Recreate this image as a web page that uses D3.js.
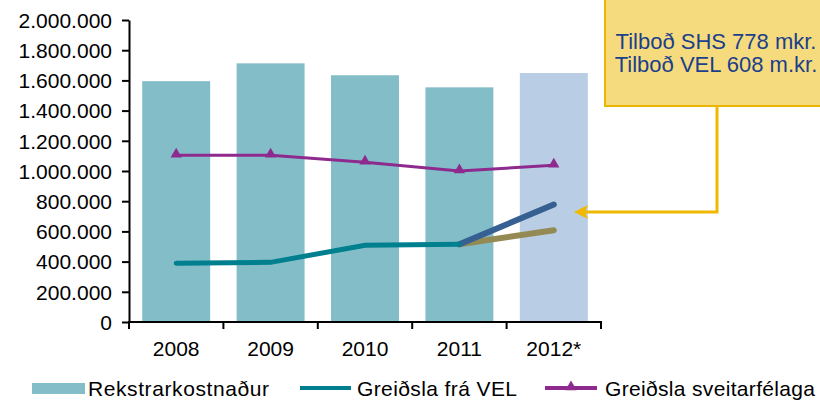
<!DOCTYPE html>
<meta charset="utf-8">
<title>rekstur</title>
<style>
body { margin: 0; background: #fff; }
text { font-family: "Liberation Sans", Arial, sans-serif; }
</style>
<body>
<script src="https://d3js.org/d3.v7.min.js"></script>
<script>
var width = 820, height = 400;

var years = ["2008", "2009", "2010", "2011", "2012*"];
var rekstur = [1595000, 1713000, 1634000, 1554000, 1649000];
var sveitarfelog = [1104000, 1104000, 1058000, 1000000, 1038000];
var vel = [389000, 395000, 508000, 515000];
var shs2012 = 778000;
var velTilbod2012 = 608000;
var yTicks = [0, 200000, 400000, 600000, 800000, 1000000, 1200000, 1400000, 1600000, 1800000, 2000000];
var calloutLines = ["Tilboð SHS 778 mkr.", "Tilboð VEL 608 m.kr."];
var legendLabels = ["Rekstrarkostnaður", "Greiðsla frá VEL", "Greiðsla sveitarfélaga"];

var svg = d3.select("body").append("svg")
    .attr("width", width)
    .attr("height", height);

var x = d3.scaleBand()
    .domain(years)
    .range([129, 601])
    .paddingInner(0.28)
    .paddingOuter(0.14);

var y = d3.scaleLinear()
    .domain([0, 2000000])
    .range([322, 20]);

var fmt = function(d) { return d3.format(",")(d).replace(/,/g, "."); };
var cx = function(i) { return x(years[i]) + x.bandwidth() / 2; };

// bars
svg.selectAll("rect.bar")
    .data(rekstur)
  .enter().append("rect")
    .attr("class", "bar")
    .attr("x", function(d, i) { return x(years[i]); })
    .attr("y", function(d) { return y(d); })
    .attr("width", x.bandwidth())
    .attr("height", function(d) { return y(0) - y(d); })
    .attr("fill", function(d, i) { return i == 4 ? "#b9cde5" : "#83bdc8"; });

// y axis
var yAxis = d3.axisLeft(y)
    .tickValues(yTicks)
    .tickFormat(fmt)
    .tickSize(7)
    .tickSizeOuter(0);
var gy = svg.append("g")
    .attr("transform", "translate(129,0)")
    .call(yAxis);
gy.selectAll("text").attr("font-size", 21).attr("fill", "#000").attr("x", -17).attr("dy", "0.35em");
gy.selectAll("line, path").attr("stroke", "#000").attr("stroke-width", 2);

// x axis, ticks on band edges
var gx = svg.append("g").attr("transform", "translate(0," + y(0) + ")");
gx.append("line").attr("x1", 128).attr("x2", 602).attr("stroke", "#000").attr("stroke-width", 2);
var edges = years.map(function(d) { return x(d) - x.step() * x.paddingOuter(); }).concat([601]);
gx.selectAll("line.tick")
    .data(edges)
  .enter().append("line")
    .attr("x1", function(d) { return d; })
    .attr("x2", function(d) { return d; })
    .attr("y1", 0).attr("y2", 7)
    .attr("stroke", "#000").attr("stroke-width", 2);
gx.selectAll("text")
    .data(years)
  .enter().append("text")
    .attr("x", function(d, i) { return cx(i); })
    .attr("y", 34)
    .attr("text-anchor", "middle")
    .attr("font-size", 21)
    .text(function(d) { return d; });

// lines
var line = d3.line()
    .x(function(d) { return cx(d[0]); })
    .y(function(d) { return y(d[1]); });

svg.append("path")
    .datum([[3, vel[3]], [4, velTilbod2012]])
    .attr("d", line)
    .attr("fill", "none").attr("stroke", "#948a54").attr("stroke-width", 6).attr("stroke-linecap", "round");
svg.append("path")
    .datum([[3, vel[3]], [4, shs2012]])
    .attr("d", line)
    .attr("fill", "none").attr("stroke", "#376092").attr("stroke-width", 6).attr("stroke-linecap", "round");
svg.append("path")
    .datum(vel.map(function(d, i) { return [i, d]; }))
    .attr("d", line)
    .attr("fill", "none").attr("stroke", "#00808f").attr("stroke-width", 5).attr("stroke-linecap", "round");

svg.append("path")
    .datum(sveitarfelog.map(function(d, i) { return [i, d]; }))
    .attr("d", line)
    .attr("fill", "none").attr("stroke", "#8e2a8e").attr("stroke-width", 3);

var tri = d3.symbol().type(d3.symbolTriangle).size(55);
svg.selectAll("path.mark")
    .data(sveitarfelog)
  .enter().append("path")
    .attr("class", "mark")
    .attr("d", tri)
    .attr("transform", function(d, i) { return "translate(" + cx(i) + "," + (y(d) - 1) + ")"; })
    .attr("fill", "#8e2a8e");

// callout
svg.append("rect")
    .attr("x", 605).attr("y", -2).attr("width", 230).attr("height", 108)
    .attr("fill", "#f5db7e").attr("stroke", "#eab600").attr("stroke-width", 2);
svg.selectAll("text.callout")
    .data(calloutLines)
  .enter().append("text")
    .attr("class", "callout")
    .attr("x", 716)
    .attr("y", function(d, i) { return 49 + i * 23; })
    .attr("text-anchor", "middle")
    .attr("font-size", 22)
    .attr("fill", "#1b3f8b")
    .text(function(d) { return d; });
svg.append("path")
    .attr("d", "M717,106V212H584")
    .attr("fill", "none").attr("stroke", "#f0b800").attr("stroke-width", 3);
svg.append("path")
    .attr("d", "M574,212L588,205L585,212L588,219Z")
    .attr("fill", "#f0b800");

// legend
var lg = svg.append("g").attr("transform", "translate(0,388)");
lg.append("rect").attr("x", 32).attr("y", -5).attr("width", 53).attr("height", 11).attr("fill", "#83bdc8");
lg.append("text").attr("x", 88).attr("y", 8).attr("font-size", 21)
    .attr("textLength", 181).attr("lengthAdjust", "spacing").text(legendLabels[0]);
lg.append("line").attr("x1", 300).attr("x2", 351).attr("stroke", "#00808f").attr("stroke-width", 4);
lg.append("text").attr("x", 357).attr("y", 8).attr("font-size", 21)
    .attr("textLength", 160).attr("lengthAdjust", "spacing").text(legendLabels[1]);
lg.append("line").attr("x1", 545).attr("x2", 597).attr("stroke", "#8e2a8e").attr("stroke-width", 4);
lg.append("path").attr("d", tri).attr("transform", "translate(571,-1)").attr("fill", "#8e2a8e");
lg.append("text").attr("x", 605).attr("y", 8).attr("font-size", 21)
    .attr("textLength", 210).attr("lengthAdjust", "spacing").text(legendLabels[2]);
</script>
